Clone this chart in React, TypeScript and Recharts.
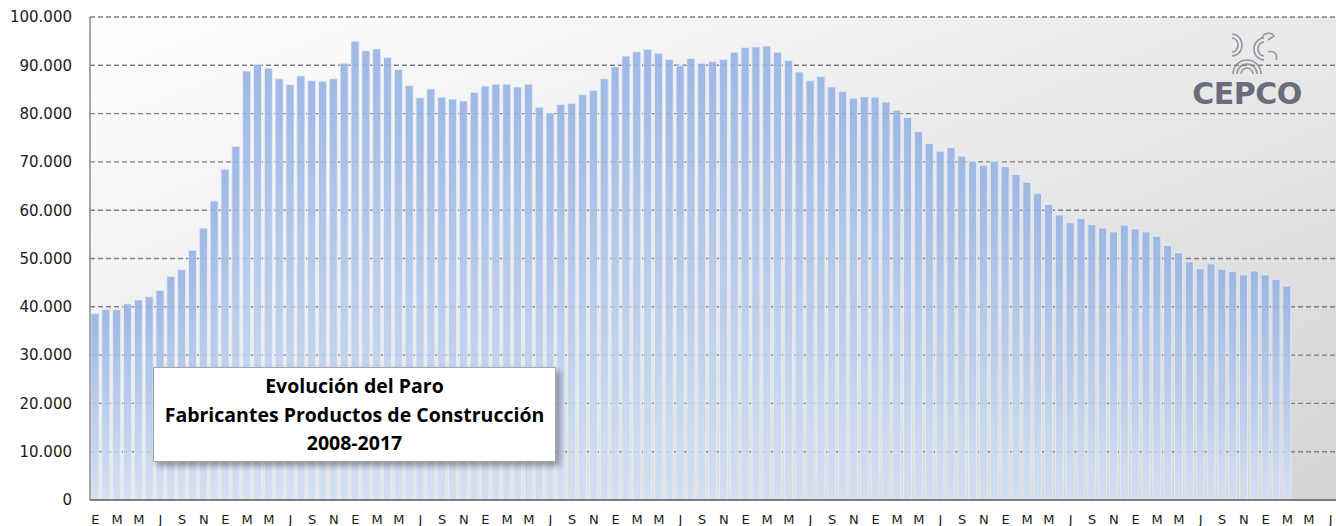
import React from 'react';
import { BarChart, Bar, XAxis, YAxis, CartesianGrid } from 'recharts';

// Parados mensuales (enero 2008 - marzo 2017)
const paro2008 = [38600, 39400, 39400, 40600, 41400, 42100, 43400, 46300, 47700, 51700, 56300, 61900];
const paro2009 = [68500, 73200, 88800, 90200, 89400, 87200, 86000, 87800, 86800, 86700, 87200, 90400];
const paro2010 = [95000, 93000, 93400, 91600, 89100, 85800, 83300, 85100, 83400, 83000, 82600, 84400];
const paro2011 = [85700, 86100, 86100, 85500, 86100, 81300, 80100, 81900, 82100, 83900, 84800, 87200];
const paro2012 = [89700, 91900, 92800, 93300, 92500, 91200, 89900, 91400, 90400, 90800, 91200, 92700];
const paro2013 = [93700, 93800, 94000, 92700, 91000, 88600, 86800, 87700, 85500, 84600, 83200, 83500];
const paro2014 = [83400, 82400, 80700, 79200, 76300, 73800, 72200, 73000, 71200, 70100, 69300, 70100];
const paro2015 = [69000, 67400, 65800, 63500, 61200, 59000, 57400, 58300, 57000, 56300, 55500, 56900];
const paro2016 = [56100, 55500, 54600, 52700, 51200, 49300, 47900, 48900, 47800, 47300, 46600, 47400];
const paro2017 = [46600, 45700, 44300];

const years = [2008, 2009, 2010, 2011, 2012, 2013, 2014, 2015, 2016, 2017];
const monthInitials = ['E', 'F', 'M', 'A', 'M', 'J', 'J', 'A', 'S', 'O', 'N', 'D'];
const yTicks = [0, 10000, 20000, 30000, 40000, 50000, 60000, 70000, 80000, 90000, 100000];
const monthsOnAxis = 115; // el eje llega hasta julio 2017

const values = [
  ...paro2008, ...paro2009, ...paro2010, ...paro2011, ...paro2012,
  ...paro2013, ...paro2014, ...paro2015, ...paro2016, ...paro2017,
];

const data = Array.from({ length: monthsOnAxis }, (_, i) => ({
  key: `${years[Math.floor(i / 12)]}-${i % 12}`,
  paro: i < values.length ? values[i] : null,
}));

const fmtY = (v: number) => (v === 0 ? '0' : `${v / 1000}.000`);
const fmtX = (k: string) => monthInitials[Number(String(k).split('-')[1])] ?? '';

export default function App() {
  return (
    <div style={{ position: 'absolute', left: 0, top: 0, width: 1336, height: 526, background: '#fff' }}>
      <svg width={0} height={0} style={{ position: 'absolute' }}>
        <defs>
          <linearGradient id="plotBg" x1="0" y1="0" x2="1" y2="1">
            <stop offset="0%" stopColor="#ffffff" />
            <stop offset="100%" stopColor="#d4d4d4" />
          </linearGradient>
          <linearGradient id="barFill" x1="0" y1="0" x2="0" y2="1">
            <stop offset="0%" stopColor="#93b1e2" />
            <stop offset="100%" stopColor="#d3dff4" />
          </linearGradient>
        </defs>
      </svg>
      <BarChart
        width={1336}
        height={526}
        data={data}
        margin={{ top: 17, right: 0, bottom: 0, left: 0 }}
        barSize={8}
      >
        <CartesianGrid
          vertical={false}
          stroke="#7f7f7f"
          strokeWidth={1.4}
          strokeDasharray="5 3"
          fill="url(#plotBg)"
          fillOpacity={1}
        />
        <XAxis
          dataKey="key"
          interval={1}
          height={26}
          tickLine={false}
          tickMargin={9}
          tickFormatter={fmtX}
          axisLine={{ stroke: '#7f7f7f', strokeWidth: 2 }}
          tick={{ fill: '#1a1a1a', fontSize: 13, fontFamily: 'DejaVu Sans' }}
        />
        <YAxis
          width={90}
          domain={[0, 100000]}
          ticks={yTicks}
          interval={0}
          tickFormatter={fmtY}
          tickLine={false}
          tickMargin={12}
          axisLine={{ stroke: '#8c8c8c', strokeWidth: 1.5 }}
          tick={{ fill: '#1a1a1a', fontSize: 15, fontFamily: 'DejaVu Sans' }}
        />
        <Bar
          dataKey="paro"
          fill="url(#barFill)"
          fillOpacity={0.88}
          stroke="#e6edf8"
          strokeWidth={0.8}
          isAnimationActive={false}
        />
      </BarChart>

      {/* logotipo CEPCO */}
      <svg width={1336} height={526} style={{ position: 'absolute', left: 0, top: 0, pointerEvents: 'none' }}>
        <g fill="none" stroke="#8a8d99" strokeWidth={1.6} opacity={0.9}>
          <path d="M1233,74 A14,14 0 0 1 1261,74" />
          <path d="M1237,74 A10,10 0 0 1 1257,74" />
          <path d="M1241,74 A6,6 0 0 1 1253,74" />
          <path d="M1232,34 A10,11 0 0 1 1232,56" />
          <path d="M1232,38 A6,7 0 0 1 1232,52" />
          <path d="M1264,38 A10,11 0 0 0 1264,60" />
          <path d="M1264,42 A6,7 0 0 0 1264,56" />
          <path d="M1262,38 C1264,32 1272,32 1274,36 L1268,40" />
          <path d="M1268,52 C1274,50 1278,54 1276,60" />
        </g>
        <text
          x={1247}
          y={104}
          textAnchor="middle"
          fontFamily="DejaVu Sans"
          fontWeight="bold"
          fontSize={30}
          letterSpacing={-0.5}
          fill="#5d6070"
          opacity={0.9}
        >
          CEPCO
        </text>
      </svg>

      {/* cuadro de título */}
      <div
        style={{
          position: 'absolute',
          left: 153,
          top: 367,
          width: 403,
          height: 95,
          background: '#fff',
          border: '1px solid #a6a6a6',
          boxShadow: '4px 4px 6px rgba(0,0,0,0.35)',
          fontFamily: 'Open Sans',
          fontWeight: 'bold',
          fontSize: 19.5,
          lineHeight: '28.5px',
          textAlign: 'center',
          color: '#000',
          paddingTop: 4,
          boxSizing: 'border-box',
          whiteSpace: 'nowrap',
        }}
      >
        Evolución del Paro
        <br />
        Fabricantes Productos de Construcción
        <br />
        2008-2017
      </div>
    </div>
  );
}
